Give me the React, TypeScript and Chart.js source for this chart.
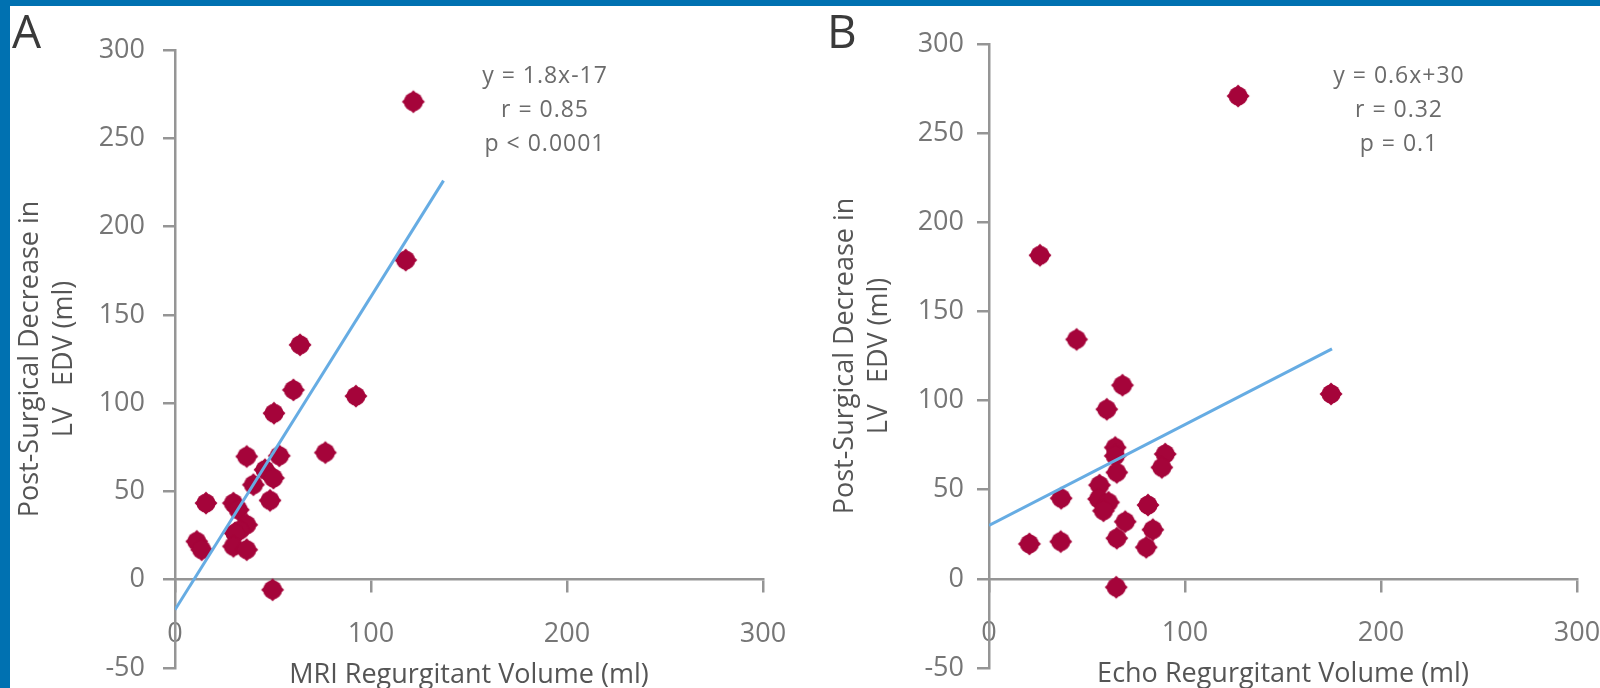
import React, { useEffect, useRef } from 'react';
import { Chart, registerables } from 'chart.js';

Chart.register(...registerables);

// ---- Data ----
const mriVolume = [121.6, 117.7, 63.8, 60.4, 92.3, 50.5, 36.6, 53.2, 76.7, 45.9, 50.2, 40, 48.5, 15.8, 29.8, 32.3, 36.6, 33, 30.6, 11.1, 13.6, 29.8, 36.6, 49.8];
const mriDecrease = [270.7, 181, 133, 107.5, 104, 94.3, 69.8, 70.2, 72, 62.3, 57.6, 53.8, 44.9, 43.4, 43.4, 39.6, 31.1, 28, 26.4, 21.7, 17, 18.9, 17, -5.7];

const echoVolume = [127.1, 26, 44.7, 174.5, 68.1, 60.1, 64.4, 64.4, 89.9, 88.2, 65.2, 56.4, 36.8, 55.9, 61, 58.4, 81.1, 69.5, 83.6, 65.2, 20.6, 36.6, 80.2, 64.9];
const echoDecrease = [270.8, 181.5, 134.3, 103.7, 108.6, 95.1, 73.7, 69, 70, 62.5, 59.7, 52.6, 45.2, 44.8, 42.9, 38.2, 41.4, 32.1, 27.6, 22.8, 19.6, 20.9, 17.7, -4.7];

const mriFitX = [0, 137];
const mriFitY = [-17, 226];
const echoFitX = [0, 175];
const echoFitY = [30, 129];

const xTickValues = [0, 100, 200, 300];
const yTickValues = [-50, 0, 50, 100, 150, 200, 250, 300];

const mriStats = ['y = 1.8x-17', 'r = 0.85', 'p < 0.0001'];
const echoStats = ['y = 0.6x+30', 'r = 0.32', 'p = 0.1'];
const yAxisTitle = ['Post-Surgical Decrease in', 'LV   EDV (ml)'];
const mriXTitle = 'MRI Regurgitant Volume (ml)';
const echoXTitle = 'Echo Regurgitant Volume (ml)';

// ---- Styles ----
const FONT = '"Open Sans", "DejaVu Sans", sans-serif';
const RED = '#a5043a';
const FIT = '#66ace3';
const AXIS = '#959595';
const TICK_TEXT = '#767676';
const TITLE_TEXT = '#555555';
const BLUE = '#0071b1';

function makeMarker(): HTMLCanvasElement {
  const c = document.createElement('canvas');
  c.width = 26;
  c.height = 26;
  const g = c.getContext('2d') as CanvasRenderingContext2D;
  g.fillStyle = RED;
  g.beginPath();
  g.moveTo(13, 1.5);
  g.lineTo(24.5, 13);
  g.lineTo(13, 24.5);
  g.lineTo(1.5, 13);
  g.closePath();
  g.fill();
  g.beginPath();
  g.arc(13, 13, 9.5, 0, Math.PI * 2);
  g.fill();
  return c;
}

type Layout = {
  axisX: number;
  top: number;
  bottom: number;
  right: number;
  yLabelPad: number;
  yTitlePad: number;
  letterX: number;
  statsX: number;
};

function Panel(props: {
  left: number;
  letter: string;
  xs: number[];
  ys: number[];
  fitX: number[];
  fitY: number[];
  stats: string[];
  xTitle: string;
  L: Layout;
}) {
  const ref = useRef<HTMLCanvasElement | null>(null);
  useEffect(() => {
    const canvas = ref.current;
    if (!canvas) return;
    const { L } = props;
    const marker = makeMarker();
    const textPlugin = {
      id: 'panelText',
      afterDraw(chart: any) {
        const ctx = chart.ctx;
        ctx.save();
        ctx.fillStyle = '#3a3a3a';
        ctx.font = `46px ${FONT}`;
        ctx.textAlign = 'left';
        ctx.textBaseline = 'alphabetic';
        ctx.fillText(props.letter, L.letterX, 48);
        ctx.fillStyle = '#6b6b6b';
        ctx.font = `23px ${FONT}`;
        try {
          (ctx as any).letterSpacing = '1px';
        } catch (e) {}
        ctx.textAlign = 'center';
        ctx.textBaseline = 'middle';
        props.stats.forEach((s, i) => ctx.fillText(s, L.statsX, 76 + i * 34));
        ctx.restore();
      },
    };
    const chart = new Chart(canvas, {
      type: 'scatter',
      data: {
        datasets: [
          {
            data: props.fitX.map((x, i) => ({ x, y: props.fitY[i] })),
            showLine: true,
            borderColor: FIT,
            borderWidth: 3,
            pointRadius: 0,
            fill: false,
          },
          {
            data: props.xs.map((x, i) => ({ x, y: props.ys[i] })),
            pointStyle: marker,
            pointRadius: 12,
            backgroundColor: RED,
            borderColor: RED,
          },
        ],
      },
      options: {
        responsive: false,
        animation: false,
        layout: { padding: { left: 0, top: L.top, right: L.right, bottom: L.bottom } },
        plugins: { legend: { display: false }, tooltip: { enabled: false } },
        scales: {
          x: {
            type: 'linear',
            position: { y: 0 },
            min: 0,
            max: 300,
            afterBuildTicks: (s: any) => {
              s.ticks = xTickValues.map((v) => ({ value: v }));
            },
            afterFit: (s: any) => {
              s.paddingLeft = 0;
              s.paddingRight = 0;
              s.paddingTop = 0;
              s.paddingBottom = 0;
            },
            grid: { drawOnChartArea: false, drawTicks: true, tickLength: 12, color: AXIS, lineWidth: 2.5 },
            border: { color: AXIS, width: 2.5 },
            ticks: { font: { family: FONT, size: 27 }, color: TICK_TEXT, padding: 26, maxRotation: 0, autoSkip: false },
            title: {
              display: true,
              text: props.xTitle,
              font: { family: FONT, size: 27 },
              color: TITLE_TEXT,
              padding: { top: -17, bottom: 0 },
            },
          },
          y: {
            type: 'linear',
            min: -50,
            max: 300,
            afterBuildTicks: (s: any) => {
              s.ticks = yTickValues.map((v) => ({ value: v }));
            },
            afterFit: (s: any) => {
              s.width = L.axisX;
              s.paddingTop = 0;
              s.paddingBottom = 0;
              s.paddingLeft = 0;
              s.paddingRight = 0;
            },
            grid: { drawOnChartArea: false, drawTicks: true, tickLength: 12, color: AXIS, lineWidth: 2.5 },
            border: { color: AXIS, width: 2.5 },
            ticks: { font: { family: FONT, size: 27 }, color: TICK_TEXT, padding: L.yLabelPad, autoSkip: false },
            title: {
              display: true,
              text: yAxisTitle,
              font: { family: FONT, size: 27, lineHeight: 1.26 },
              color: TITLE_TEXT,
              padding: { top: L.yTitlePad, bottom: 0 },
            },
          },
        },
      },
      plugins: [textPlugin],
    } as any);
    return () => chart.destroy();
  }, []);
  return (
    <canvas
      ref={ref}
      width={800}
      height={688}
      style={{ position: 'absolute', left: props.left, top: 0, width: 800, height: 688, display: 'block' }}
    />
  );
}

export default function App() {
  const layoutA: Layout = { axisX: 175, top: 50, bottom: 20, right: 37, yLabelPad: 18, yTitlePad: 13, letterX: 12, statsX: 545 };
  const layoutB: Layout = { axisX: 189, top: 44, bottom: 20, right: 23, yLabelPad: 13, yTitlePad: 28, letterX: 27, statsX: 599 };
  return (
    <div
      style={{
        position: 'absolute',
        left: 0,
        top: 0,
        width: 1600,
        height: 688,
        background: '#ffffff',
        overflow: 'hidden',
      }}
    >
      <Panel left={0} letter="A" xs={mriVolume} ys={mriDecrease} fitX={mriFitX} fitY={mriFitY} stats={mriStats} xTitle={mriXTitle} L={layoutA} />
      <Panel left={800} letter="B" xs={echoVolume} ys={echoDecrease} fitX={echoFitX} fitY={echoFitY} stats={echoStats} xTitle={echoXTitle} L={layoutB} />
      <div style={{ position: 'absolute', left: 0, top: 0, width: 1600, height: 6, background: BLUE }} />
      <div style={{ position: 'absolute', left: 0, top: 0, width: 10, height: 688, background: BLUE }} />
    </div>
  );
}
